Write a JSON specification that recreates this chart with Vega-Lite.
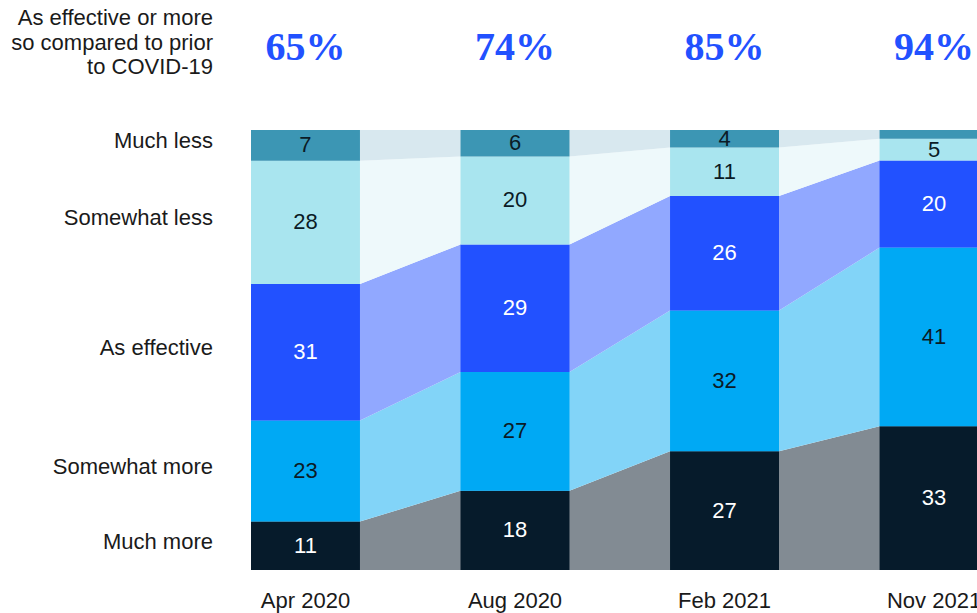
{
  "$schema": "https://vega.github.io/schema/vega-lite/v6.json",
  "width": 726,
  "height": 570,
  "autosize": {"type": "none"},
  "padding": {"left": 251, "top": 0, "right": 0, "bottom": 43},
  "background": "white",
  "config": {"view": {"stroke": null}, "font": "Liberation Sans"},
  "datasets": {
    "responses": [
      {"period": "Apr 2020", "idx": 0, "category": "Much more", "ord": 0, "value": 11},
      {"period": "Apr 2020", "idx": 0, "category": "Somewhat more", "ord": 1, "value": 23},
      {"period": "Apr 2020", "idx": 0, "category": "As effective", "ord": 2, "value": 31},
      {"period": "Apr 2020", "idx": 0, "category": "Somewhat less", "ord": 3, "value": 28},
      {"period": "Apr 2020", "idx": 0, "category": "Much less", "ord": 4, "value": 7},
      {"period": "Aug 2020", "idx": 1, "category": "Much more", "ord": 0, "value": 18},
      {"period": "Aug 2020", "idx": 1, "category": "Somewhat more", "ord": 1, "value": 27},
      {"period": "Aug 2020", "idx": 1, "category": "As effective", "ord": 2, "value": 29},
      {"period": "Aug 2020", "idx": 1, "category": "Somewhat less", "ord": 3, "value": 20},
      {"period": "Aug 2020", "idx": 1, "category": "Much less", "ord": 4, "value": 6},
      {"period": "Feb 2021", "idx": 2, "category": "Much more", "ord": 0, "value": 27},
      {"period": "Feb 2021", "idx": 2, "category": "Somewhat more", "ord": 1, "value": 32},
      {"period": "Feb 2021", "idx": 2, "category": "As effective", "ord": 2, "value": 26},
      {"period": "Feb 2021", "idx": 2, "category": "Somewhat less", "ord": 3, "value": 11},
      {"period": "Feb 2021", "idx": 2, "category": "Much less", "ord": 4, "value": 4},
      {"period": "Nov 2021", "idx": 3, "category": "Much more", "ord": 0, "value": 33},
      {"period": "Nov 2021", "idx": 3, "category": "Somewhat more", "ord": 1, "value": 41},
      {"period": "Nov 2021", "idx": 3, "category": "As effective", "ord": 2, "value": 20},
      {"period": "Nov 2021", "idx": 3, "category": "Somewhat less", "ord": 3, "value": 5},
      {"period": "Nov 2021", "idx": 3, "category": "Much less", "ord": 4, "value": 2}
    ],
    "totals": [
      {"period": "Apr 2020", "idx": 0, "pct": "65%"},
      {"period": "Aug 2020", "idx": 1, "pct": "74%"},
      {"period": "Feb 2021", "idx": 2, "pct": "85%"},
      {"period": "Nov 2021", "idx": 3, "pct": "94%"}
    ],
    "caption": [
      {"text": "As effective or more\nso compared to prior\nto COVID-19", "idx": 0}
    ]
  },
  "resolve": {"scale": {"color": "independent"}},
  "layer": [
    {
      "data": {"name": "responses"},
      "transform": [
        {"stack": "value", "groupby": ["period"], "sort": [{"field": "ord", "order": "ascending"}], "offset": "normalize", "as": ["v0", "v1"]},
        {"calculate": "[datum.idx - 0.26, datum.idx + 0.26]", "as": "xs"},
        {"flatten": ["xs"]}
      ],
      "mark": {"type": "area", "clip": true, "interpolate": "linear"},
      "encoding": {
        "x": {"field": "xs", "type": "quantitative", "axis": null, "scale": {"domain": [-0.26, 3.205], "nice": false, "zero": false}},
        "y": {"field": "v0", "type": "quantitative", "stack": null, "axis": null, "scale": {"domain": [0, 1.29545], "nice": false, "zero": false}},
        "y2": {"field": "v1"},
        "color": {"field": "category", "type": "nominal", "legend": null,
          "scale": {"domain": ["Much more", "Somewhat more", "As effective", "Somewhat less", "Much less"],
                    "range": ["#828B93", "#82D4F8", "#91A8FF", "#EEF9FB", "#D8E8EF"]}},
        "detail": {"field": "category"},
        "order": {"field": "ord"}
      }
    },
    {
      "data": {"name": "responses"},
      "transform": [
        {"stack": "value", "groupby": ["period"], "sort": [{"field": "ord", "order": "ascending"}], "offset": "normalize", "as": ["v0", "v1"]},
        {"calculate": "datum.idx - 0.26", "as": "xl"},
        {"calculate": "datum.idx + 0.26", "as": "xr"}
      ],
      "mark": {"type": "bar", "clip": true},
      "encoding": {
        "x": {"field": "xl", "type": "quantitative", "axis": null, "scale": {"domain": [-0.26, 3.205], "nice": false, "zero": false}},
        "x2": {"field": "xr"},
        "y": {"field": "v0", "type": "quantitative", "stack": null, "axis": null, "scale": {"domain": [0, 1.29545], "nice": false, "zero": false}},
        "y2": {"field": "v1"},
        "color": {"field": "category", "type": "nominal", "legend": null,
          "scale": {"domain": ["Much more", "Somewhat more", "As effective", "Somewhat less", "Much less"],
                    "range": ["#061B2B", "#00A9F4", "#2251FF", "#A9E5EF", "#3C96B4"]}}
      }
    },
    {
      "data": {"name": "responses"},
      "transform": [
        {"stack": "value", "groupby": ["period"], "sort": [{"field": "ord", "order": "ascending"}], "offset": "normalize", "as": ["v0", "v1"]},
        {"calculate": "(datum.v0 + datum.v1) / 2", "as": "mid"},
        {"filter": "datum.value >= 3"}
      ],
      "mark": {"type": "text", "fontSize": 22, "baseline": "middle", "align": "center", "clip": true},
      "encoding": {
        "x": {"field": "idx", "type": "quantitative", "axis": null, "scale": {"domain": [-0.26, 3.205], "nice": false, "zero": false}},
        "y": {"field": "mid", "type": "quantitative", "axis": null, "scale": {"domain": [0, 1.29545], "nice": false, "zero": false}},
        "text": {"field": "value", "type": "quantitative"},
        "color": {"condition": {"test": "datum.category === 'As effective' || datum.category === 'Much more'", "value": "#FFFFFF"}, "value": "#0B1B26"}
      }
    },
    {
      "data": {"name": "responses"},
      "transform": [
        {"filter": "datum.period === 'Apr 2020'"},
        {"stack": "value", "groupby": ["period"], "sort": [{"field": "ord", "order": "ascending"}], "offset": "normalize", "as": ["v0", "v1"]},
        {"calculate": "(datum.v0 + datum.v1) / 2", "as": "mid"},
        {"calculate": "datum.idx - 0.26", "as": "xl"}
      ],
      "mark": {"type": "text", "fontSize": 22, "baseline": "middle", "align": "right", "dx": -38, "dy": -4, "color": "#1A1A1A"},
      "encoding": {
        "x": {"field": "xl", "type": "quantitative", "axis": null, "scale": {"domain": [-0.26, 3.205], "nice": false, "zero": false}},
        "y": {"field": "mid", "type": "quantitative", "axis": null, "scale": {"domain": [0, 1.29545], "nice": false, "zero": false}},
        "text": {"field": "category", "type": "nominal"}
      }
    },
    {
      "data": {"name": "totals"},
      "mark": {"type": "text", "font": "Liberation Serif", "fontWeight": "bold", "fontSize": 40, "baseline": "alphabetic", "align": "center", "color": "#2251FF"},
      "encoding": {
        "x": {"field": "idx", "type": "quantitative", "axis": null, "scale": {"domain": [-0.26, 3.205], "nice": false, "zero": false}},
        "y": {"datum": 1.1591, "type": "quantitative", "axis": null, "scale": {"domain": [0, 1.29545], "nice": false, "zero": false}},
        "text": {"field": "pct", "type": "nominal"}
      }
    },
    {
      "data": {"name": "totals"},
      "mark": {"type": "text", "fontSize": 22, "baseline": "alphabetic", "align": "center", "dy": 38, "color": "#1A1A1A"},
      "encoding": {
        "x": {"field": "idx", "type": "quantitative", "axis": null, "scale": {"domain": [-0.26, 3.205], "nice": false, "zero": false}},
        "y": {"datum": 0, "type": "quantitative", "axis": null, "scale": {"domain": [0, 1.29545], "nice": false, "zero": false}},
        "text": {"field": "period", "type": "nominal"}
      }
    },
    {
      "data": {"name": "caption"},
      "transform": [{"calculate": "datum.idx - 0.26", "as": "xl"}],
      "mark": {"type": "text", "fontSize": 22, "baseline": "middle", "align": "right", "dx": -38, "lineBreak": "\n", "lineHeight": 24.5, "color": "#1A1A1A"},
      "encoding": {
        "x": {"field": "xl", "type": "quantitative", "axis": null, "scale": {"domain": [-0.26, 3.205], "nice": false, "zero": false}},
        "y": {"datum": 1.2545, "type": "quantitative", "axis": null, "scale": {"domain": [0, 1.29545], "nice": false, "zero": false}},
        "text": {"field": "text", "type": "nominal"}
      }
    }
  ]
}
